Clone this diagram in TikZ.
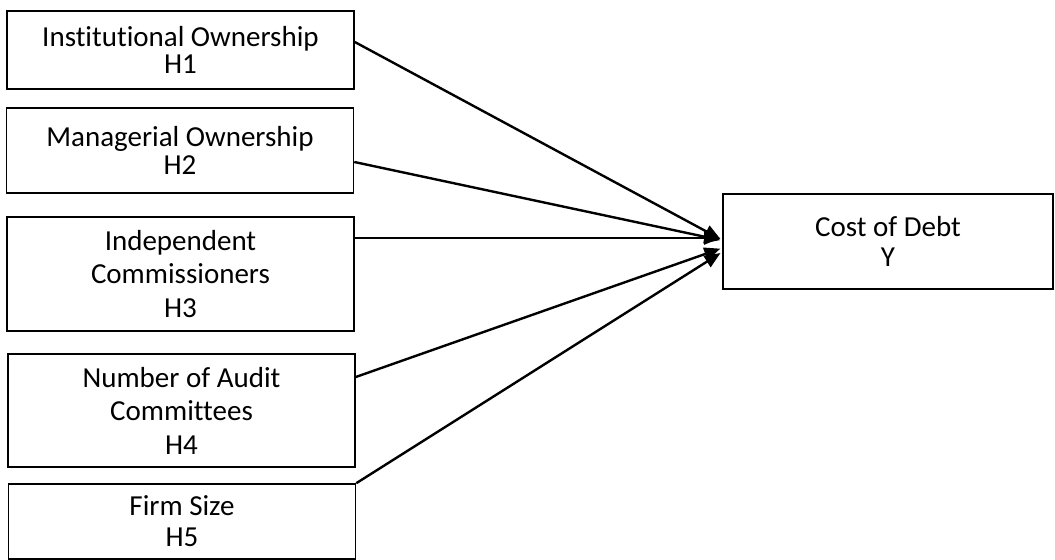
\documentclass[tikz,border=0pt]{standalone}
\usepackage{fontspec}
\setmainfont{Carlito}[Ligatures=NoCommon]
\usetikzlibrary{arrows.meta}
\begin{document}
\begin{tikzpicture}[x=0.5pt,y=-0.5pt,shorten >=1pt,>={Triangle[length=8pt,width=6.5pt]}]
	\tikzstyle{var}=[draw,line width=0.8pt,inner sep=0pt,align=center,minimum width=173.5pt,font=\fontsize{14.5}{16.75}\selectfont]
	\tikzstyle{link}=[->,line width=1.2pt]
	
	\useasboundingbox (0,0) rectangle (1055,560);
	
	\node[var,minimum height=39pt,font=\fontsize{14.5}{13.5}\selectfont](h1) at (180.5,50){Institutional Ownership\\H1};
	\node[var,minimum height=42.5pt,font=\fontsize{14.5}{13.75}\selectfont](h2) at (180,150.5){Managerial Ownership\\H2};
	\node[var,minimum height=57pt](h3) at (180.5,274){Independent\\Commissioners\\H3};
	\node[var,minimum height=56.5pt](h4) at (181.5,410.5){Number of Audit\\Committees\\H4};
	\node[var,minimum height=37.5pt,font=\fontsize{14.5}{15.5}\selectfont](h5) at (182,521.5){Firm Size\\H5};
	
	\node[var,minimum width=165pt,minimum height=47.5pt,font=\fontsize{14.5}{15}\selectfont](y) at (888,241.5){Cost of Debt\\Y};
	
	\draw[link] ([yshift=4pt]h1.east) -- ([yshift=0.75pt]y.west);
	\draw[link] ([yshift=-5.75pt]h2.east) -- ([yshift=0.5pt]y.west);
	\draw[link] ([yshift=18pt]h3.east) -- ([yshift=1.75pt]y.west);
	\draw[link] ([yshift=16.75pt]h4.east) -- ([yshift=-3.25pt]y.west);
	\draw[link] (h5.north east) -- ([yshift=-5.25pt]y.west);
	
\end{tikzpicture}
\end{document}
